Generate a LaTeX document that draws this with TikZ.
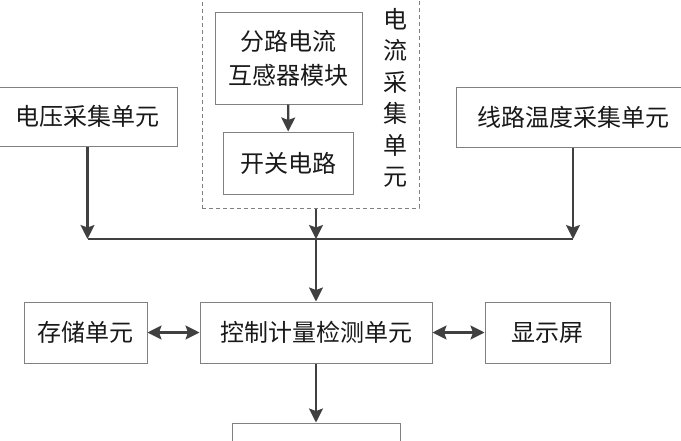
\documentclass[tikz,border=0pt]{standalone}
\usepackage{fontspec}
\usepackage{tikz}
\usetikzlibrary{calc, arrows.meta, positioning}
\newfontfamily\cjk{Noto Sans CJK SC}

\begin{document}
\begin{tikzpicture}[x=1pt, y=-1pt,
  box/.style={draw=black!50, line width=1pt, fill=white, inner sep=0pt, align=center,
    font=\cjk\fontsize{24}{34}\selectfont, text=black!90},
  link/.style={draw=black!75, line width=2.2pt},
  arr/.style={link, -{Stealth[length=14pt, width=14pt, inset=2.5pt]}},
  darr/.style={link, {Stealth[length=14pt, width=14pt, inset=2.5pt]}-{Stealth[length=14pt, width=14pt, inset=2.5pt]}}]

\clip (0,0) rectangle (681,440);

% Draw the current collection frame
\node[draw=black!50, dash pattern=on 4pt off 3pt, line width=1pt, inner sep=0pt,
  minimum width=217, minimum height=222] (frame) at (310.5,97) {};
\node[box, minimum width=147, minimum height=92] (ct) at (288.5,58) {分路电流\\互感器模块};
\node[box, minimum width=130, minimum height=62] (sw) at (288,163) {开关电路};
\node[align=center, inner sep=0pt, text=black!90, font=\cjk\fontsize{24}{31.5}\selectfont] (lbl) at (395,98) {电\\流\\采\\集\\单\\元};

% Draw the other units
\node[box, minimum width=179, minimum height=59] (volt) at (87.5,116.5) {电压采集单元};
\node[box, minimum width=234, minimum height=60] (temp) at (573,117) {线路温度采集单元};
\node[box, minimum width=232, minimum height=61] (ctrl) at (316,332.5) {控制计量检测单元};
\node[box, minimum width=123, minimum height=61] (store) at (85.5,332.5) {存储单元};
\node[box, minimum width=125, minimum height=61] (disp) at (547.5,332.5) {显示屏};
\node[box, minimum width=168, minimum height=60] (out) at (316,453) {};

% Draw the connections
\coordinate (bus) at (316,239);
\draw[arr] (ct) -- (sw);
\draw[arr] (volt.south) -- (volt.south |- bus);
\draw[arr] (temp.south) -- (temp.south |- bus);
\draw[arr] (bus |- frame.south) -- (bus);
\draw[link] (volt.south |- bus) -- (temp.south |- bus);
\draw[arr] (bus) -- (ctrl.north);
\draw[darr] (store) -- (ctrl);
\draw[darr] (ctrl) -- (disp);
\draw[arr] (ctrl) -- (out);

\end{tikzpicture}
\end{document}
